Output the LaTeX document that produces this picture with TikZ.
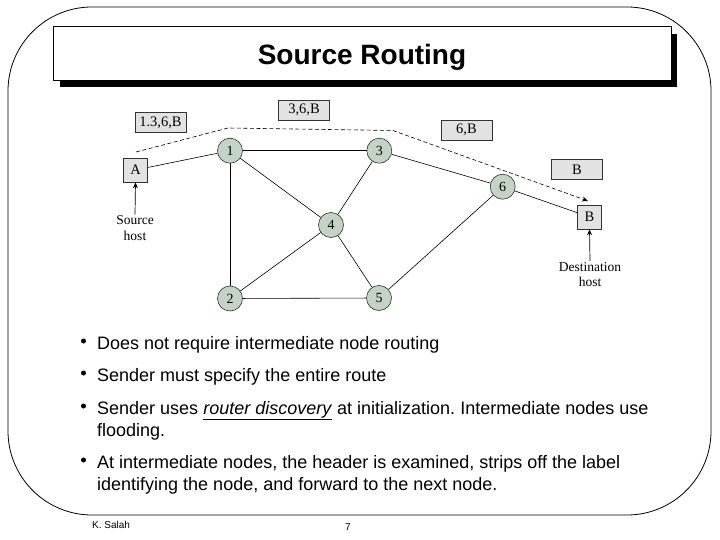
\documentclass[tikz,border=0pt]{standalone}
\usepackage{fontspec}
\setmainfont{Liberation Sans}
\newfontfamily\serifdia{Liberation Serif}
\usetikzlibrary{arrows.meta}
\definecolor{circfill}{RGB}{196,212,196}
\definecolor{boxfill}{RGB}{226,226,226}
\begin{document}
\frenchspacing
\begin{tikzpicture}[x=1pt,y=-1pt,
  frame/.style={draw=black,line width=0.8pt,rounded corners=84pt},
  titlebox/.style={draw=black,line width=1pt,fill=white,minimum width=618pt,minimum height=54pt,inner sep=0pt},
  rnode/.style={circle,draw=black!80,line width=0.6pt,fill=circfill,minimum size=25pt,inner sep=0pt,font=\serifdia\fontsize{14}{15}\selectfont},
  hostbox/.style={draw=black!80,line width=0.6pt,fill=boxfill,minimum width=24.5pt,minimum height=24pt,inner sep=0pt,font=\serifdia\fontsize{14.5}{15}\selectfont},
  hdrbox/.style={draw=black!80,line width=0.6pt,fill=boxfill,minimum width=51pt,minimum height=20.5pt,inner sep=0pt,font=\serifdia\fontsize{14.5}{15}\selectfont},
  lbl/.style={align=center,inner sep=0pt,font=\serifdia\fontsize{13.5}{15.5}\selectfont},
  link/.style={draw=black,line width=0.6pt},
  route/.style={draw=black,line width=0.6pt,dashed,dash pattern=on 4pt off 2.5pt,-{Stealth[length=6pt,width=5pt]}},
  hostarrow/.style={draw=black,line width=0.7pt,-{Stealth[length=6pt,width=5pt]}},
  bul/.style={circle,fill=black,inner sep=0pt,minimum size=5pt},
  btext/.style={anchor=base west,inner sep=0pt,font=\fontsize{18}{22}\selectfont},
  foot/.style={anchor=base west,inner sep=0pt,font=\fontsize{10}{12}\selectfont}
]
\useasboundingbox (0,0) rectangle (720,540);
% outer frame
\draw[frame] (8,7) rectangle (711,515);
% title
\fill[black] (60,34) rectangle (677,87);
\node[titlebox] (title) at (362,54) {};
\node[inner sep=0pt,font=\bfseries\fontsize{28}{30}\selectfont] (titletext) at (362,57) {Source Routing};

% header boxes
\node[hdrbox] (h1) at (160.5,122.5) {1.3,6,B};
\node[hdrbox] (h2) at (304,110.3) {3,6,B};
\node[hdrbox] (h3) at (466.5,130.3) {6,B};
\node[hdrbox] (h4) at (577,169.3) {B};

% hosts
\node[hostbox] (A) at (135.5,170) {A};
\node[hostbox] (B) at (589.5,217) {B};

% routers
\node[rnode] (n1) at (230,150.7) {1};
\node[rnode] (n3) at (379.3,150.7) {3};
\node[rnode] (n4) at (331,225) {4};
\node[rnode] (n2) at (230,298.5) {2};
\node[rnode] (n5) at (379,298) {5};
\node[rnode] (n6) at (502.7,186.7) {6};

% links
\draw[link] (A) -- (n1);
\draw[link] (n1) -- (n3);
\draw[link] (n1) -- (n2);
\draw[link] (n1) -- (n4);
\draw[link] (n3) -- (n4);
\draw[link] (n3) -- (n6);
\draw[link] (n4) -- (n2);
\draw[link] (n4) -- (n5);
\draw[link] (n2) -- (n5);
\draw[link] (n5) -- (n6);
\draw[link] (n6) -- (B);

% route path
\coordinate (r0) at (136,152);
\coordinate (r1) at (228,128);
\coordinate (r2) at (393,130.5);
\coordinate (r3) at (588,201);
\draw[route] (r0) -- (r1) -- (r2) -- (r3);

% host labels
\node[lbl] (src) at (135,228) {Source\\host};
\node[lbl] (dst) at (590,274.5) {Destination\\host};
\draw[hostarrow] (src.north) ++(0,-1) -- (A.south);
\draw[hostarrow] (dst.north) ++(0,-1) -- (B.south);

% bullets
\node[bul] (b1) at (83.5,341) {};
\node[btext] (t1) at (97,349.5) {Does not require intermediate node routing};
\node[bul] (b2) at (83.5,373) {};
\node[btext] (t2) at (97,381.5) {Sender must specify the entire route};
\node[bul] (b3) at (83.5,406) {};
\node[btext] (t3) at (97,414.5) {Sender uses \underline{\textit{router discovery}} at initialization. Intermediate nodes use};
\node[btext] (t3b) at (97,436.5) {flooding.};
\node[bul] (b4) at (83.5,460) {};
\node[btext] (t4) at (97,468.5) {At intermediate nodes, the header is examined, strips off the label};
\node[btext] (t4b) at (97,490.5) {identifying the node, and forward to the next node.};

% footer
\node[foot] (f1) at (92,528) {K. Salah};
\node[foot] (f2) at (345,530) {7};
\end{tikzpicture}
\end{document}
